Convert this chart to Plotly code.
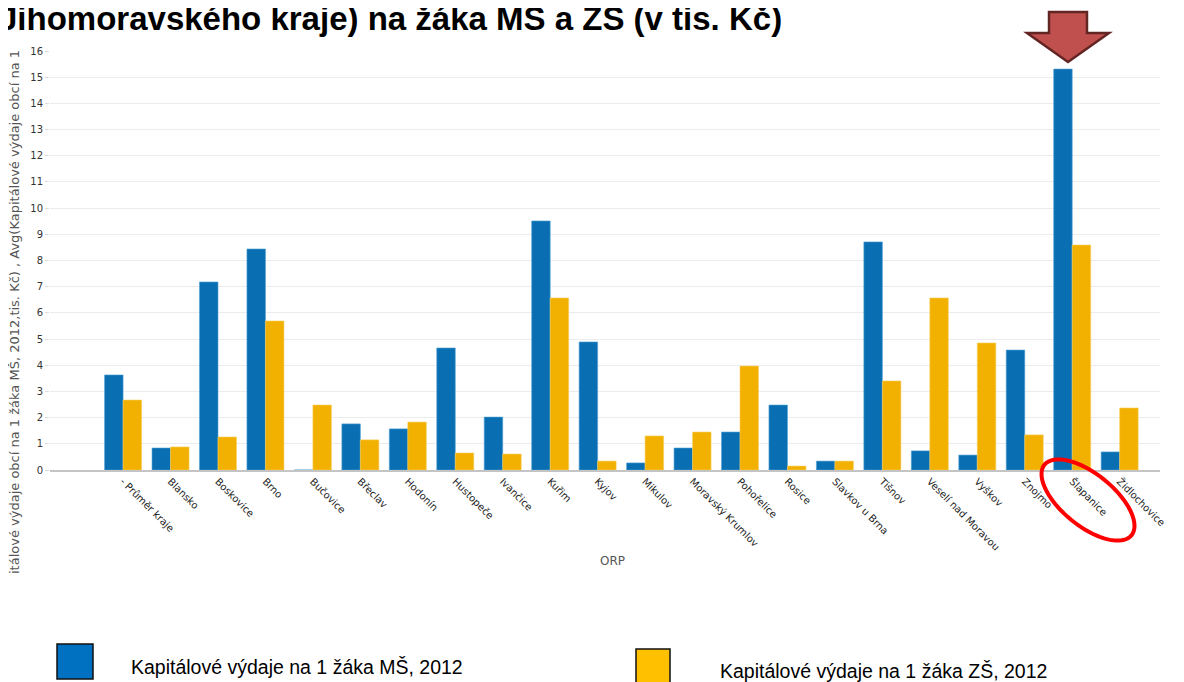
import numpy as np
import plotly.graph_objects as go

categories = ["- Průměr kraje", "Blansko", "Boskovice", "Brno", "Bučovice", "Břeclav",
              "Hodonín", "Hustopeče", "Ivančice", "Kuřim", "Kyjov", "Mikulov",
              "Moravský Krumlov", "Pohořelice", "Rosice", "Slavkov u Brna", "Tišnov",
              "Veselí nad Moravou", "Vyškov", "Znojmo", "Šlapanice", "Židlochovice"]
ms_values = [3.63, 0.84, 7.18, 8.44, 0.0, 1.76, 1.57, 4.66, 2.02, 9.51, 4.89, 0.27,
             0.84, 1.45, 2.48, 0.34, 8.71, 0.73, 0.57, 4.58, 15.31, 0.69]
zs_values = [2.67, 0.88, 1.26, 5.69, 2.48, 1.15, 1.83, 0.65, 0.61, 6.57, 0.34, 1.30,
             1.45, 3.97, 0.15, 0.34, 3.40, 6.57, 4.85, 1.34, 8.59, 2.37]
y_ticks = list(range(0, 17))

series_ms = "Kapitálové výdaje na 1 žáka MŠ, 2012"
series_zs = "Kapitálové výdaje na 1 žáka ZŠ, 2012"
title_text = "Jihomoravského kraje) na žáka MŠ a ZŠ (v tis. Kč)"
ytitle_text = "itálové výdaje obcí na 1 žáka MŠ, 2012,tis. Kč) , Avg(Kapitálové výdaje obcí na 1"

W, H = 1184, 682
OFF = 8  # page body margin offset
L, R, T, B = 50 - OFF, 32, 51 - OFF, 682 - (470 - OFF)
PW = W - L - R
PH = H - T - B

def px(x):
    return (x - OFF - L) / PW

def py(y):
    return (H - B - (y - OFF)) / PH

fig = go.Figure()
fig.add_trace(go.Bar(x=list(range(len(categories))), y=ms_values, name=series_ms,
                     marker=dict(color="#0a6fb2", line=dict(color="#4f9fd3", width=0.6))))
fig.add_trace(go.Bar(x=list(range(len(categories))), y=zs_values, name=series_zs,
                     marker=dict(color="#f2b000", line=dict(color="#f7cf5e", width=0.6))))

shapes = []
# arrow
arrow_pts = [(1049, 12), (1087, 12), (1087, 33), (1109, 33), (1068, 62), (1027, 33), (1049, 33)]
path = "M " + " L ".join(f"{px(x):.5f},{py(y):.5f}" for x, y in arrow_pts) + " Z"
shapes.append(dict(type="path", xref="paper", yref="paper", path=path,
                   fillcolor="#c0504d", line=dict(color="#632523", width=2.5)))
# ellipse
cx, cy, a, b, ang = 1088, 500, 56, 26, np.deg2rad(39)
t = np.linspace(0, 2 * np.pi, 80)
ex = cx + a * np.cos(t) * np.cos(ang) - b * np.sin(t) * np.sin(ang)
ey = cy + a * np.cos(t) * np.sin(ang) + b * np.sin(t) * np.cos(ang)
epath = "M " + " L ".join(f"{px(x):.5f},{py(y):.5f}" for x, y in zip(ex, ey)) + " Z"
shapes.append(dict(type="path", xref="paper", yref="paper", path=epath,
                   line=dict(color="#ff0000", width=4)))
# legend squares
shapes.append(dict(type="rect", xref="paper", yref="paper", x0=px(57), x1=px(93),
                   y0=py(679), y1=py(644), fillcolor="#0070c0", line=dict(color="#111", width=1.5)))
shapes.append(dict(type="rect", xref="paper", yref="paper", x0=px(636), x1=px(670),
                   y0=py(684), y1=py(649), fillcolor="#ffc000", line=dict(color="#111", width=1.5)))

annotations = [
    dict(text=f"<b>{title_text}</b>", xref="paper", yref="paper", x=px(-3), y=py(39),
         xanchor="left", yanchor="bottom", showarrow=False,
         font=dict(family="Liberation Sans, Arial", size=33, color="#000")),
    dict(text=ytitle_text, xref="paper", yref="paper", x=px(14), y=py(312),
         xanchor="center", yanchor="middle", textangle=-90, showarrow=False,
         font=dict(family="DejaVu Sans", size=13, color="#555")),
    dict(text="ORP", xref="paper", yref="paper", x=px(612), y=py(561),
         xanchor="center", yanchor="middle", showarrow=False,
         font=dict(family="DejaVu Sans", size=12, color="#555")),
    dict(text=series_ms, xref="paper", yref="paper", x=px(129), y=py(667),
         xanchor="left", yanchor="middle", showarrow=False,
         font=dict(family="Liberation Sans, Arial", size=19.5, color="#000")),
    dict(text=series_zs, xref="paper", yref="paper", x=px(718), y=py(671),
         xanchor="left", yanchor="middle", showarrow=False,
         font=dict(family="Liberation Sans, Arial", size=19.5, color="#000")),
]

fig.update_layout(
    width=W, height=H,
    margin=dict(l=L, r=R, t=T, b=B, autoexpand=False),
    paper_bgcolor="white", plot_bgcolor="white",
    barmode="group", bargap=0.22, bargroupgap=0,
    showlegend=False,
    shapes=shapes, annotations=annotations,
    xaxis=dict(range=[-1.54, 21.85], tickmode="array", tickvals=list(range(len(categories))),
               ticktext=categories, tickangle=45, showgrid=False, zeroline=False,
               showline=True, linecolor="#c4c4c4", linewidth=1.5, ticks="",
               tickfont=dict(family="DejaVu Sans", size=10, color="#222")),
    yaxis=dict(range=[0, 16], tickmode="array", tickvals=y_ticks, showgrid=True,
               gridcolor="#ececec", gridwidth=1, zeroline=False, showline=False,
               ticks="outside", ticklen=4, tickcolor="#dcdcdc",
               tickfont=dict(family="DejaVu Sans", size=10, color="#333")),
)

fig.write_html("out.html")
